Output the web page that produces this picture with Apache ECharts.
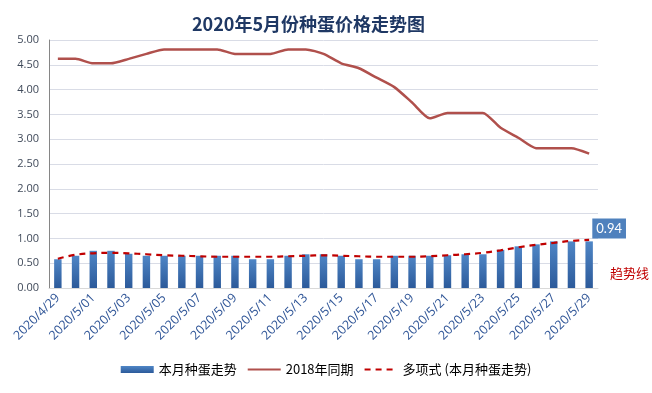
<!DOCTYPE html>
<html>
<head>
<meta charset="utf-8">
<script src="https://cdn.jsdelivr.net/npm/echarts@6/dist/echarts.min.js"></script>
<style>html,body{margin:0;padding:0;background:#fff}#c{width:652px;height:393px}</style>
</head>
<body>
<div id="c"></div>
<script>
var categories = ["2020/4/29","2020/4/30","2020/5/01","2020/5/02","2020/5/03","2020/5/04","2020/5/05","2020/5/06","2020/5/07","2020/5/08","2020/5/09","2020/5/10","2020/5/11","2020/5/12","2020/5/13","2020/5/14","2020/5/15","2020/5/16","2020/5/17","2020/5/18","2020/5/19","2020/5/20","2020/5/21","2020/5/22","2020/5/23","2020/5/24","2020/5/25","2020/5/26","2020/5/27","2020/5/28","2020/5/29"];
var thisMonth = [0.58,0.65,0.75,0.75,0.69,0.65,0.65,0.65,0.65,0.65,0.65,0.58,0.58,0.65,0.68,0.68,0.65,0.58,0.58,0.65,0.65,0.65,0.66,0.68,0.68,0.77,0.84,0.88,0.94,0.94,0.94];
var same2018 = [4.62,4.62,4.53,4.53,4.62,4.72,4.81,4.81,4.81,4.81,4.72,4.72,4.72,4.81,4.81,4.72,4.53,4.43,4.24,4.05,3.74,3.42,3.53,3.53,3.53,3.23,3.03,2.82,2.82,2.82,2.71];
var trend = [0.59,0.67,0.70,0.71,0.70,0.68,0.66,0.65,0.64,0.63,0.63,0.63,0.63,0.64,0.65,0.66,0.65,0.64,0.63,0.63,0.63,0.64,0.66,0.68,0.71,0.76,0.82,0.87,0.91,0.95,0.97];
var yTicks = [0,0.5,1,1.5,2,2.5,3,3.5,4,4.5,5];
var seriesNames = ["本月种蛋走势","2018年同期","多项式 (本月种蛋走势)"];
var titleText = "2020年5月份种蛋价格走势图";
var trendText = "趋势线";

var barData = thisMonth.map(function(v, i){
  if (i === thisMonth.length - 1) {
    return {value: v, label: {show: true, position: 'top', distance: 3, offset: [20, 0],
      color: '#fff', backgroundColor: '#4F81BD', padding: [4, 4, 3, 4], fontSize: 13,
      fontFamily: 'Lato, sans-serif', formatter: function(p){ return p.value.toFixed(2); }}};
  }
  return v;
});

var chart = echarts.init(document.getElementById('c'));
chart.setOption({
  animation: false,
  backgroundColor: '#fff',
  title: {text: titleText, left: 187, top: 10,
    textStyle: {fontSize: 18, fontWeight: 'bold', color: '#1F3864', fontFamily: '"Noto Sans CJK SC", sans-serif'}},
  grid: {left: 49, right: 54, top: 40, bottom: 105},
  legend: {bottom: 12, left: 'center', itemWidth: 33, itemHeight: 7, itemGap: 10,
    textStyle: {fontSize: 13, color: '#000', fontFamily: '"Noto Sans CJK SC", sans-serif'},
    data: [{name: seriesNames[0], icon: 'rect'},
      {name: seriesNames[1], itemStyle: {opacity: 0}},
      {name: seriesNames[2], itemStyle: {opacity: 0}}]},
  xAxis: {type: 'category', data: categories, boundaryGap: true,
    axisLine: {lineStyle: {color: '#D9D9D9'}}, axisTick: {show: false},
    axisLabel: {interval: 1, rotate: 45, color: '#2F5597', fontSize: 12.5, margin: 8,
      fontFamily: '"Open Sans", sans-serif'}},
  yAxis: {type: 'value', min: 0, max: 5, interval: 0.5,
    axisLine: {show: true, lineStyle: {color: '#868686'}}, axisTick: {show: false},
    splitLine: {lineStyle: {color: '#D9DCE6'}},
    axisLabel: {color: '#404a5a', fontSize: 11, margin: 10, fontFamily: '"Open Sans", sans-serif',
      formatter: function(v){ return v.toFixed(2); }}},
  graphic: [{type: 'text', left: 610, top: 267,
    style: {text: trendText, fill: '#C00000', fontSize: 13, fontFamily: '"Noto Sans CJK SC", sans-serif'}}],
  series: [
    {name: seriesNames[0], type: 'bar', data: barData, barWidth: '42%',
      itemStyle: {color: new echarts.graphic.LinearGradient(0, 0, 0, 1, [
        {offset: 0, color: '#4F86C6'}, {offset: 1, color: '#2C5A9A'}])}},
    {name: seriesNames[1], type: 'line', data: same2018, smooth: 0.2, symbol: 'none',
      lineStyle: {color: '#B0504C', width: 2.5}, itemStyle: {color: '#B0504C'}},
    {name: seriesNames[2], type: 'line', data: trend, smooth: 0.4, symbol: 'none', z: 5,
      lineStyle: {color: '#C00000', width: 2.2, type: [6, 5]}, itemStyle: {color: '#C00000'}}
  ]
});
</script>
</body>
</html>
